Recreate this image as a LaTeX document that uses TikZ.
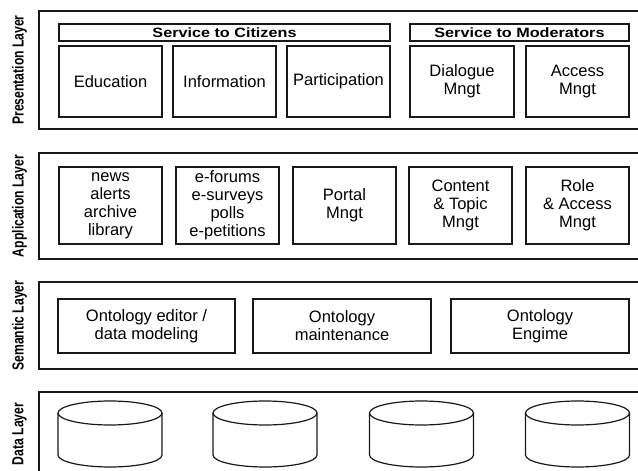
\documentclass[tikz,border=0pt]{standalone}
\usepackage{fontspec}
\setmainfont{Liberation Sans}
\newfontfamily\hdrfont[FakeStretch=1.2]{Liberation Sans}
\newfontfamily\lblfont[FakeStretch=0.76]{Liberation Sans}
\begin{document}
\begin{tikzpicture}[x=1pt,y=-1pt,
  layer/.style={line width=1.6pt, draw=black!90},
  box/.style={draw=black!90, line width=1.2pt, inner sep=0pt, align=center, font=\fontsize{16.5}{18}\selectfont},
  hdr/.style={draw=black!90, line width=1.2pt, inner sep=0pt, minimum height=17pt, font=\hdrfont\bfseries\fontsize{13.5}{15}\selectfont},
  lbl/.style={rotate=90, inner sep=0pt, font=\lblfont\bfseries\fontsize{16}{18}\selectfont},
  pbox/.style={box, minimum width=103pt, minimum height=71pt},
  abox/.style={box, minimum width=103pt, minimum height=77pt},
  sbox/.style={box, minimum width=178pt, minimum height=54pt},
  cyl/.style={draw=black!90, line width=1.2pt}]
\useasboundingbox (0,0) rectangle (638,471);
\clip (0,0) rectangle (638,471);
% layers
\draw[layer] (39,11) rectangle (660,129);
\draw[layer] (39,153) rectangle (660,259);
\draw[layer] (39,282) rectangle (660,369);
\draw[layer] (39,392) rectangle (660,500);
% layer labels
\node[lbl] (lp) at (19.5,70) {Presentation Layer};
\node[lbl] (la) at (19.5,206) {Application Layer};
\node[lbl] (ls) at (19.5,325.5) {Semantic Layer};
\node[lbl] (ld) at (19.5,434) {Data Layer};
% presentation
\node[hdr, minimum width=331pt] (cit) at (224.5,32.5) {Service to Citizens};
\node[hdr, minimum width=219pt] (mod) at (519.5,32.5) {Service to Moderators};
\node[pbox] (edu) at (110.5,81.5) {Education};
\node[pbox] (inf) at (224.5,81.5) {Information};
\node[pbox] (par) at (338.5,81.5) {Participation};
\node[pbox, minimum width=104pt] (dia) at (462,81.5) {Dialogue\\Mngt};
\node[pbox] (acc) at (577.5,81.5) {Access\\Mngt};
% application
\node[abox] (news) at (110.5,205.5) {news\\alerts\\archive\\library};
\node[abox] (forum) at (227.5,205.5) {e-forums\\e-surveys\\polls\\e-petitions};
\node[abox] (portal) at (344.5,205.5) {Portal\\Mngt};
\node[abox] (cont) at (460.5,205.5) {Content\\\& Topic\\Mngt};
\node[abox] (role) at (577.5,205.5) {Role\\\& Access\\Mngt};
% semantic
\node[sbox, minimum width=177pt] (oed) at (146.5,326) {Ontology editor /\\data modeling};
\node[sbox] (omt) at (342,326) {Ontology\\maintenance};
\node[sbox] (oen) at (540,326) {Ontology\\Engime};
% data
\foreach \cx in {110,265,421.5,577.5}{
  \draw[cyl] (\cx,413) ellipse[x radius=52, y radius=12];
  \draw[cyl] (\cx-52,413) -- (\cx-52,455) arc[start angle=180, end angle=0, x radius=52, y radius=12] -- (\cx+52,413);
}
\end{tikzpicture}
\end{document}
